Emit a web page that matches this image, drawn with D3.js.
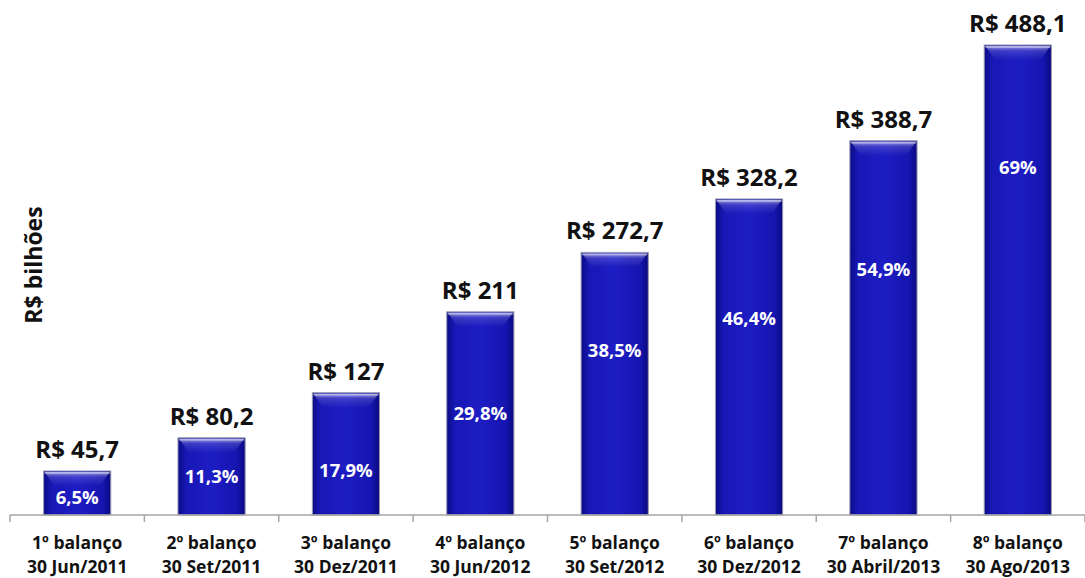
<!DOCTYPE html>
<html>
<head>
<meta charset="utf-8">
<script src="https://cdn.jsdelivr.net/npm/d3@7"></script>
<style>
  body { margin: 0; background: #fff; }
  svg { display: block; font-family: "Open Sans", sans-serif; }
</style>
</head>
<body>
<div class="chart"></div>
<script>
// data
const balancos = ['1º balanço', '2º balanço', '3º balanço', '4º balanço', '5º balanço', '6º balanço', '7º balanço', '8º balanço'];
const datas = ['30 Jun/2011', '30 Set/2011', '30 Dez/2011', '30 Jun/2012', '30 Set/2012', '30 Dez/2012', '30 Abril/2013', '30 Ago/2013'];
const valores = [45.7, 80.2, 127, 211, 272.7, 328.2, 388.7, 488.1];
const valorLabels = ['R$ 45,7', 'R$ 80,2', 'R$ 127', 'R$ 211', 'R$ 272,7', 'R$ 328,2', 'R$ 388,7', 'R$ 488,1'];
const percentuais = ['6,5%', '11,3%', '17,9%', '29,8%', '38,5%', '46,4%', '54,9%', '69%'];
// where each percent label sits, in R$ bilhões on the value scale
const percentAt = [18.5, 39.5, 46.5, 105.5, 171, 204.5, 255, 361];

const width = 1085;
const height = 578;
const margin = { top: 45, right: 0, bottom: 63, left: 10 };
const innerW = width - margin.left - margin.right;
const innerH = height - margin.top - margin.bottom;

const svg = d3
  .select('.chart')
  .append('svg')
  .attr('width', width)
  .attr('height', height);

const defs = svg.append('defs');
const grad = defs.append('linearGradient').attr('id', 'barGrad').attr('x1', '0').attr('x2', '1').attr('y1', '0').attr('y2', '0');
grad.append('stop').attr('offset', '0%').attr('stop-color', '#0b0b86');
grad.append('stop').attr('offset', '12%').attr('stop-color', '#1818b6');
grad.append('stop').attr('offset', '50%').attr('stop-color', '#1d1dc4');
grad.append('stop').attr('offset', '88%').attr('stop-color', '#1515b0');
grad.append('stop').attr('offset', '100%').attr('stop-color', '#0a0a80');

const gloss = defs.append('linearGradient').attr('id', 'gloss').attr('x1', '0').attr('x2', '0').attr('y1', '0').attr('y2', '1');
gloss.append('stop').attr('offset', '0%').attr('stop-color', '#ffffff').attr('stop-opacity', 0.55);
gloss.append('stop').attr('offset', '35%').attr('stop-color', '#ffffff').attr('stop-opacity', 0.15);
gloss.append('stop').attr('offset', '100%').attr('stop-color', '#ffffff').attr('stop-opacity', 0);

const g = svg.append('g').attr('transform', 'translate(' + margin.left + ',' + margin.top + ')');

const x = d3.scaleBand().domain(d3.range(balancos.length)).range([0, innerW]).paddingInner(0.5).paddingOuter(0.25);
const y = d3.scaleLinear().domain([0, 488.1]).range([innerH, 0]);

// bars
const bars = g
  .selectAll('.bar')
  .data(valores)
  .enter()
  .append('g')
  .attr('class', 'bar');

bars
  .append('rect')
  .attr('x', (d, i) => x(i))
  .attr('y', d => y(d))
  .attr('width', x.bandwidth())
  .attr('height', d => innerH - y(d))
  .attr('fill', 'url(#barGrad)')
  .attr('stroke', '#9a9ab0')
  .attr('stroke-width', 1);

// glossy bevel at the top of each bar
bars
  .append('path')
  .attr('d', (d, i) => {
    const x0 = x(i) + 1;
    const x1 = x(i) + x.bandwidth() - 1;
    const t = y(d) + 1;
    const b = t + 14;
    return `M${x0},${t}L${x1},${t}L${x1 - 10},${b}L${x0 + 10},${b}Z`;
  })
  .attr('fill', 'url(#gloss)');

bars
  .append('rect')
  .attr('x', (d, i) => x(i) + 1)
  .attr('y', d => y(d) + 1)
  .attr('width', x.bandwidth() - 2)
  .attr('height', 2)
  .attr('fill', '#ffffff')
  .attr('opacity', 0.35);

// value labels above bars
g.selectAll('.valor')
  .data(valorLabels)
  .enter()
  .append('text')
  .attr('class', 'valor')
  .attr('x', (d, i) => x(i) + x.bandwidth() / 2)
  .attr('y', (d, i) => y(valores[i]) - 13)
  .attr('text-anchor', 'middle')
  .attr('font-size', 24)
  .attr('font-weight', 700)
  .attr('fill', '#111')
  .text(d => d);

// percent labels inside bars
g.selectAll('.pct')
  .data(percentuais)
  .enter()
  .append('text')
  .attr('class', 'pct')
  .attr('x', (d, i) => x(i) + x.bandwidth() / 2)
  .attr('y', (d, i) => y(percentAt[i]))
  .attr('dy', '0.35em')
  .attr('text-anchor', 'middle')
  .attr('font-size', 18.5)
  .attr('font-weight', 700)
  .attr('fill', '#ffffff')
  .text(d => d);

// category axis
const xEdge = d3.scaleLinear().domain([0, balancos.length]).range([0, innerW]);
const axis = g.append('g').attr('transform', 'translate(0,' + innerH + ')');
axis
  .append('line')
  .attr('x1', 0)
  .attr('x2', innerW)
  .attr('stroke', '#a6a6a6')
  .attr('stroke-width', 1.5);
axis
  .selectAll('.tick')
  .data(d3.range(balancos.length + 1))
  .enter()
  .append('line')
  .attr('x1', d => xEdge(d))
  .attr('x2', d => xEdge(d))
  .attr('y1', 0)
  .attr('y2', 7)
  .attr('stroke', '#a6a6a6')
  .attr('stroke-width', 1.5);

// two-line category labels
['linha1', 'linha2'].forEach((cls, k) => {
  axis
    .selectAll('.' + cls)
    .data(k === 0 ? balancos : datas)
    .enter()
    .append('text')
    .attr('class', cls)
    .attr('x', (d, i) => xEdge(i + 0.5))
    .attr('y', k === 0 ? 34 : 58)
    .attr('text-anchor', 'middle')
    .attr('font-size', 17.5)
    .attr('font-weight', 700)
    .attr('fill', '#111')
    .text(d => d);
});

// y axis title
svg
  .append('text')
  .attr('transform', 'translate(42,265) rotate(-90)')
  .attr('text-anchor', 'middle')
  .attr('font-size', 23)
  .attr('font-weight', 700)
  .attr('fill', '#111')
  .text('R$ bilhões');
</script>
</body>
</html>
